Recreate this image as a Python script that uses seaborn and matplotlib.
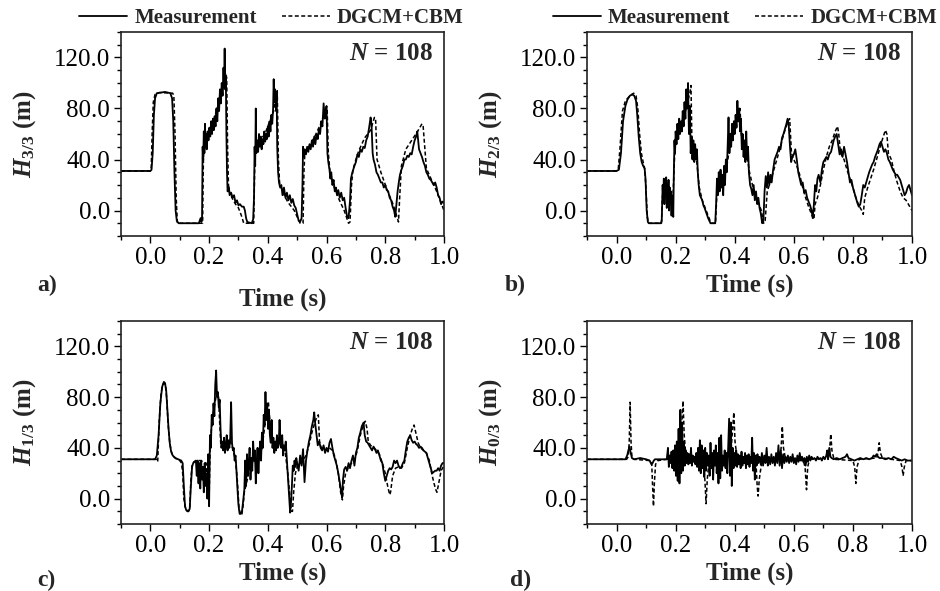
import matplotlib
matplotlib.use("Agg")
import matplotlib.pyplot as plt
import seaborn as sns
from matplotlib.ticker import MultipleLocator, FormatStrFormatter

# ---------------- data ----------------
# Panel a : H3/3
a_meas_t = [-0.100, 0.000, 0.004, 0.008, 0.012, 0.016, 0.022, 0.050, 0.068, 0.074,
            0.078, 0.082, 0.086, 0.090, 0.096, 0.165, 0.168, 0.171, 0.174, 0.176,
            0.178, 0.180, 0.182, 0.184, 0.186, 0.188, 0.190, 0.192, 0.195, 0.198,
            0.201, 0.204, 0.207, 0.210, 0.213, 0.216, 0.219, 0.222, 0.225, 0.228,
            0.231, 0.234, 0.237, 0.240, 0.243, 0.246, 0.249, 0.251, 0.253, 0.255,
            0.257, 0.259, 0.261, 0.263, 0.267, 0.270, 0.275, 0.280, 0.285, 0.290,
            0.295, 0.300, 0.305, 0.312, 0.318, 0.322, 0.326, 0.330, 0.345, 0.350,
            0.353, 0.355, 0.357, 0.359, 0.361, 0.364, 0.367, 0.370, 0.373, 0.376,
            0.379, 0.382, 0.385, 0.388, 0.391, 0.394, 0.397, 0.400, 0.403, 0.406,
            0.409, 0.412, 0.415, 0.418, 0.420, 0.422, 0.425, 0.428, 0.430, 0.432,
            0.435, 0.438, 0.442, 0.446, 0.450, 0.455, 0.460, 0.465, 0.470, 0.475,
            0.480, 0.485, 0.490, 0.495, 0.500, 0.505, 0.510, 0.515, 0.518, 0.520,
            0.523, 0.526, 0.530, 0.534, 0.538, 0.542, 0.546, 0.550, 0.554, 0.558,
            0.562, 0.566, 0.570, 0.574, 0.578, 0.582, 0.586, 0.590, 0.594, 0.597,
            0.600, 0.603, 0.606, 0.610, 0.613, 0.616, 0.620, 0.624, 0.628, 0.632,
            0.636, 0.640, 0.645, 0.650, 0.655, 0.660, 0.665, 0.670, 0.675, 0.680,
            0.683, 0.688, 0.695, 0.700, 0.705, 0.710, 0.715, 0.720, 0.725, 0.730,
            0.735, 0.740, 0.745, 0.750, 0.753, 0.757, 0.760, 0.765, 0.770, 0.775,
            0.780, 0.785, 0.790, 0.795, 0.800, 0.805, 0.810, 0.815, 0.820, 0.825,
            0.830, 0.834, 0.838, 0.842, 0.846, 0.850, 0.855, 0.860, 0.865, 0.870,
            0.875, 0.880, 0.885, 0.890, 0.895, 0.900, 0.905, 0.909, 0.912, 0.915,
            0.920, 0.925, 0.930, 0.935, 0.940, 0.945, 0.950, 0.955, 0.960, 0.965,
            0.970, 0.975, 0.980, 0.985, 0.990, 0.995, 1.000]
a_meas_v = [31, 31, 32, 45, 75, 88, 92, 93, 92, 88,
            70, 30, 0, -8, -10, -10, -8, -6, -9, -5,
            50, 40, 62, 45, 68, 50, 60, 48, 62, 55,
            65, 58, 70, 60, 72, 63, 74, 66, 80, 70,
            88, 78, 95, 84, 100, 90, 112, 98, 127, 95,
            105, 60, 30, 15, 18, 12, 14, 10, 12, 6,
            8, 4, 5, 3, 3, 0, -6, -9, -10, -7,
            10, 50, 35, 80, 45, 55, 46, 60, 50, 58,
            48, 56, 52, 62, 54, 60, 56, 66, 58, 70,
            62, 75, 68, 80, 103, 85, 95, 78, 92, 50,
            30, 22, 18, 20, 12, 18, 10, 14, 8, 12,
            6, 9, 4, 2, -3, -8, -9, -6, 20, 50,
            42, 48, 44, 50, 46, 52, 48, 55, 50, 58,
            52, 60, 56, 64, 60, 70, 66, 84, 72, 78,
            82, 45, 38, 32, 25, 30, 20, 24, 15, 18,
            12, 16, 10, 14, 8, 10, 2, -5, -6, 8,
            25, 30, 35, 38, 44, 42, 48, 46, 50, 49,
            55, 58, 65, 73, 68, 45, 40, 36, 30, 28,
            25, 22, 22, 18, 20, 16, 15, 10, 8, 3,
            0, -5, 5, 15, 22, 28, 32, 35, 40, 40,
            43, 42, 45, 44, 50, 55, 58, 62, 55, 48,
            45, 42, 38, 35, 30, 28, 25, 24, 22, 20,
            22, 18, 12, 10, 5, 7, 6]
a_sim_t = [-0.100, 0.000, 0.003, 0.006, 0.010, 0.016, 0.030, 0.076, 0.080, 0.084,
           0.088, 0.092, 0.178, 0.180, 0.182, 0.190, 0.200, 0.210, 0.220, 0.230,
           0.240, 0.250, 0.256, 0.260, 0.263, 0.266, 0.270, 0.280, 0.290, 0.300,
           0.310, 0.318, 0.352, 0.355, 0.358, 0.370, 0.380, 0.390, 0.400, 0.410,
           0.420, 0.428, 0.432, 0.436, 0.440, 0.450, 0.460, 0.470, 0.480, 0.490,
           0.500, 0.510, 0.520, 0.523, 0.526, 0.540, 0.560, 0.580, 0.595, 0.602,
           0.606, 0.612, 0.620, 0.640, 0.660, 0.675, 0.680, 0.685, 0.690, 0.700,
           0.710, 0.730, 0.750, 0.763, 0.767, 0.772, 0.785, 0.805, 0.828, 0.845,
           0.849, 0.855, 0.870, 0.890, 0.910, 0.925, 0.929, 0.940, 0.975, 1.000]
a_sim_v = [31, 31, 34, 60, 85, 91, 92.5, 92, 90, 60,
           10, -10, -10, 30, 55, 58, 62, 66, 74, 82,
           90, 98, 108, 104, 50, 20, 14, 9, 5, 2,
           -4, -10, -10, 30, 50, 54, 57, 60, 66, 72,
           78, 90, 95, 40, 22, 15, 10, 6, 3, 0,
           -5, -10, -10, 30, 45, 50, 58, 68, 78, 80,
           45, 30, 22, 10, 0, -10, -9, 20, 32, 40,
           47, 57, 63, 73, 72, 40, 30, 17, 4, -9,
           10, 35, 48, 55, 62, 68, 66, 33, 15, 0]

# Panel b : H2/3
b_meas_t = [-0.100, 0.000, 0.008, 0.015, 0.022, 0.030, 0.037, 0.045, 0.053, 0.060,
            0.066, 0.070, 0.075, 0.080, 0.085, 0.090, 0.095, 0.098, 0.102, 0.106,
            0.110, 0.150, 0.153, 0.156, 0.158, 0.160, 0.162, 0.164, 0.166, 0.168,
            0.170, 0.172, 0.174, 0.176, 0.178, 0.180, 0.182, 0.184, 0.186, 0.188,
            0.190, 0.192, 0.194, 0.196, 0.198, 0.200, 0.203, 0.206, 0.209, 0.212,
            0.215, 0.218, 0.221, 0.224, 0.227, 0.230, 0.233, 0.236, 0.239, 0.242,
            0.245, 0.248, 0.251, 0.254, 0.257, 0.260, 0.263, 0.266, 0.269, 0.272,
            0.275, 0.278, 0.282, 0.286, 0.290, 0.294, 0.298, 0.304, 0.310, 0.318,
            0.334, 0.337, 0.340, 0.343, 0.346, 0.349, 0.352, 0.355, 0.358, 0.361,
            0.364, 0.367, 0.370, 0.373, 0.376, 0.379, 0.382, 0.385, 0.388, 0.391,
            0.394, 0.397, 0.400, 0.403, 0.406, 0.409, 0.412, 0.415, 0.418, 0.421,
            0.424, 0.427, 0.430, 0.433, 0.436, 0.439, 0.442, 0.445, 0.448, 0.452,
            0.456, 0.460, 0.464, 0.468, 0.472, 0.476, 0.480, 0.484, 0.488, 0.493,
            0.497, 0.501, 0.505, 0.509, 0.513, 0.517, 0.521, 0.525, 0.530, 0.535,
            0.540, 0.545, 0.550, 0.555, 0.560, 0.565, 0.570, 0.575, 0.579, 0.583,
            0.587, 0.591, 0.595, 0.600, 0.605, 0.610, 0.615, 0.620, 0.625, 0.630,
            0.635, 0.640, 0.645, 0.650, 0.655, 0.660, 0.664, 0.668, 0.672, 0.676,
            0.680, 0.684, 0.690, 0.695, 0.700, 0.705, 0.710, 0.715, 0.720, 0.726,
            0.730, 0.735, 0.740, 0.745, 0.750, 0.755, 0.760, 0.765, 0.770, 0.775,
            0.780, 0.785, 0.790, 0.795, 0.800, 0.805, 0.810, 0.815, 0.820, 0.825,
            0.830, 0.835, 0.840, 0.845, 0.850, 0.855, 0.860, 0.865, 0.870, 0.875,
            0.880, 0.885, 0.890, 0.895, 0.900, 0.905, 0.910, 0.915, 0.920, 0.925,
            0.930, 0.935, 0.940, 0.945, 0.950, 0.955, 0.960, 0.965, 0.970, 0.975,
            0.980, 0.985, 0.990, 0.995, 1.000]
b_meas_v = [31, 31, 32, 45, 70, 82, 87, 90, 91, 90,
            86, 75, 58, 45, 38, 35, 33, 25, 0, -9,
            -10, -10, -8, 20, 8, 25, 5, 22, 12, 26,
            2, 20, 10, 24, 0, 18, 6, 15, -4, 12,
            2, -5, 30, 55, 45, 62, 52, 68, 56, 72,
            60, 70, 62, 78, 66, 85, 72, 95, 80, 100,
            60, 82, 45, 58, 40, 55, 38, 52, 40, 48,
            30, 20, 12, 10, 8, 4, 2, -2, -6, -10,
            -10, 5, 25, 12, 30, 15, 32, 18, 28, 12,
            35, 20, 40, 30, 50, 73, 45, 60, 50, 68,
            55, 70, 60, 75, 65, 86, 70, 80, 62, 72,
            48, 60, 42, 55, 38, 62, 40, 50, 30, 20,
            17, 12, 20, 8, 15, 5, 10, 2, -2, -10,
            -8, 15, 27, 18, 30, 20, 28, 22, 32, 40,
            43, 46, 50, 48, 57, 60, 64, 68, 72, 66,
            50, 38, 42, 44, 48, 40, 30, 25, 20, 22,
            14, 16, 10, 7, 4, 0, -6, 5, 20, 15,
            25, 28, 22, 32, 38, 40, 42, 40, 44, 46,
            50, 55, 58, 60, 52, 44, 48, 42, 50, 44,
            38, 30, 22, 24, 18, 14, 10, 6, 3, 5,
            12, 20, 18, 22, 26, 30, 33, 36, 38, 42,
            45, 48, 52, 54, 50, 46, 48, 45, 40, 38,
            35, 32, 30, 28, 28, 26, 24, 20, 16, 12,
            14, 18, 20, 16, 12]
b_sim_t = [-0.100, 0.000, 0.006, 0.012, 0.020, 0.030, 0.045, 0.058, 0.066, 0.072,
           0.078, 0.084, 0.090, 0.095, 0.099, 0.104, 0.108, 0.152, 0.155, 0.160,
           0.170, 0.180, 0.190, 0.196, 0.200, 0.210, 0.220, 0.230, 0.240, 0.248,
           0.252, 0.256, 0.262, 0.270, 0.280, 0.290, 0.300, 0.310, 0.320, 0.335,
           0.340, 0.350, 0.360, 0.370, 0.380, 0.390, 0.400, 0.410, 0.418, 0.422,
           0.430, 0.440, 0.450, 0.460, 0.470, 0.480, 0.490, 0.498, 0.503, 0.510,
           0.520, 0.530, 0.540, 0.550, 0.560, 0.570, 0.580, 0.586, 0.592, 0.600,
           0.610, 0.620, 0.630, 0.640, 0.650, 0.660, 0.668, 0.672, 0.680, 0.690,
           0.700, 0.710, 0.720, 0.730, 0.740, 0.748, 0.752, 0.758, 0.770, 0.780,
           0.790, 0.800, 0.810, 0.820, 0.830, 0.835, 0.840, 0.850, 0.860, 0.870,
           0.880, 0.890, 0.900, 0.910, 0.915, 0.920, 0.930, 0.940, 0.950, 0.960,
           0.970, 0.980, 0.990, 1.000]
b_sim_v = [31, 31, 33, 50, 78, 86, 90, 92, 90, 80,
           60, 45, 38, 33, 20, -5, -10, -10, 10, 20,
           18, 12, 5, 40, 55, 62, 68, 75, 85, 92,
           98, 40, 50, 42, 18, 8, 2, -4, -10, -10,
           15, 20, 25, 30, 45, 55, 62, 70, 80, 60,
           50, 45, 30, 20, 12, 6, 0, -10, -8, 15,
           22, 30, 38, 46, 55, 63, 70, 72, 45, 40,
           35, 28, 18, 10, 3, -3, -7, 5, 10, 20,
           32, 42, 50, 55, 62, 66, 60, 45, 40, 32,
           25, 18, 10, 4, 0, -3, 10, 18, 25, 32,
           40, 48, 56, 63, 60, 45, 40, 30, 22, 15,
           10, 8, 4, 0]

# Panel c : H1/3
c_meas_t = [-0.100, 0.000, 0.016, 0.022, 0.028, 0.034, 0.040, 0.046, 0.050, 0.054,
            0.058, 0.062, 0.066, 0.070, 0.076, 0.085, 0.095, 0.105, 0.110, 0.114,
            0.118, 0.122, 0.126, 0.130, 0.134, 0.138, 0.142, 0.146, 0.150, 0.155,
            0.158, 0.161, 0.164, 0.167, 0.170, 0.173, 0.176, 0.179, 0.182, 0.185,
            0.188, 0.191, 0.194, 0.197, 0.200, 0.203, 0.206, 0.209, 0.212, 0.215,
            0.218, 0.221, 0.224, 0.227, 0.230, 0.233, 0.236, 0.239, 0.242, 0.245,
            0.248, 0.251, 0.254, 0.257, 0.260, 0.263, 0.266, 0.269, 0.272, 0.275,
            0.278, 0.281, 0.284, 0.287, 0.290, 0.293, 0.296, 0.300, 0.304, 0.308,
            0.312, 0.316, 0.320, 0.323, 0.326, 0.329, 0.332, 0.335, 0.338, 0.341,
            0.344, 0.347, 0.350, 0.353, 0.356, 0.359, 0.362, 0.365, 0.368, 0.371,
            0.374, 0.377, 0.380, 0.383, 0.386, 0.389, 0.392, 0.395, 0.398, 0.401,
            0.404, 0.407, 0.410, 0.413, 0.416, 0.419, 0.422, 0.425, 0.428, 0.431,
            0.434, 0.437, 0.440, 0.443, 0.446, 0.449, 0.452, 0.455, 0.458, 0.461,
            0.464, 0.467, 0.470, 0.473, 0.476, 0.479, 0.482, 0.485, 0.488, 0.491,
            0.494, 0.497, 0.500, 0.505, 0.510, 0.515, 0.520, 0.525, 0.530, 0.535,
            0.540, 0.545, 0.550, 0.555, 0.558, 0.561, 0.565, 0.570, 0.575, 0.580,
            0.585, 0.590, 0.595, 0.600, 0.605, 0.610, 0.615, 0.620, 0.625, 0.630,
            0.635, 0.640, 0.645, 0.650, 0.653, 0.656, 0.660, 0.665, 0.670, 0.675,
            0.680, 0.685, 0.690, 0.695, 0.700, 0.705, 0.710, 0.715, 0.720, 0.726,
            0.730, 0.735, 0.740, 0.745, 0.750, 0.755, 0.760, 0.765, 0.770, 0.775,
            0.780, 0.785, 0.790, 0.795, 0.800, 0.805, 0.810, 0.815, 0.820, 0.825,
            0.830, 0.835, 0.840, 0.845, 0.850, 0.855, 0.860, 0.865, 0.870, 0.875,
            0.880, 0.885, 0.890, 0.895, 0.900, 0.905, 0.910, 0.915, 0.920, 0.925,
            0.930, 0.935, 0.940, 0.945, 0.950, 0.955, 0.960, 0.965, 0.970, 0.975,
            0.980, 0.985, 0.990, 0.995, 1.000]
c_meas_v = [31, 31, 31, 34, 50, 75, 88, 92, 91, 85,
            70, 55, 44, 38, 34, 32, 31, 30, 28, 10,
            -6, -9, -10, -10, -8, 10, 25, 28, 29, 30,
            18, 30, 12, 28, 8, 30, 15, 25, 5, 28,
            10, 20, 0, 35, -6, 50, 40, 66, 58, 75,
            65, 90, 101, 80, 84, 72, 78, 55, 40, 45,
            38, 48, 36, 42, 50, 38, 46, 40, 48, 76,
            44, 38, 40, 30, 34, 23, 10, -5, -12, -12,
            -10, -2, 7, 30, 10, 35, 18, 28, 40, 15,
            32, 22, 45, 30, 38, 12, 28, 40, 20, 35,
            45, 30, 52, 40, 66, 58, 84, 62, 75, 55,
            70, 50, 44, 62, 40, 48, 36, 45, 38, 50,
            40, 42, 62, 45, 40, 50, 34, 42, 38, 45,
            34, 23, 12, 2, -11, -3, 10, 26, 22, 30,
            25, 32, 28, 22, 34, 26, 39, 13, 30, 38,
            45, 50, 57, 62, 68, 60, 52, 42, 45, 40,
            38, 42, 36, 40, 37, 44, 47, 40, 34, 30,
            26, 20, 13, 5, 1, 15, 23, 25, 22, 28,
            24, 30, 34, 26, 36, 40, 48, 52, 57, 60,
            50, 45, 44, 42, 40, 38, 41, 39, 36, 38,
            34, 30, 28, 20, 14, 18, 22, 24, 23, 25,
            30, 28, 30, 26, 24, 25, 28, 30, 38, 45,
            48, 50, 46, 44, 45, 43, 42, 40, 41, 40,
            38, 37, 36, 32, 28, 24, 20, 21, 22, 22,
            24, 22, 26, 28, 28]
c_sim_t = [-0.100, 0.000, 0.020, 0.025, 0.030, 0.036, 0.042, 0.048, 0.052, 0.056,
           0.060, 0.066, 0.072, 0.080, 0.090, 0.100, 0.106, 0.110, 0.114, 0.120,
           0.128, 0.134, 0.138, 0.142, 0.148, 0.160, 0.170, 0.180, 0.190, 0.196,
           0.200, 0.204, 0.210, 0.216, 0.222, 0.226, 0.232, 0.236, 0.240, 0.250,
           0.260, 0.270, 0.280, 0.290, 0.296, 0.302, 0.308, 0.312, 0.316, 0.320,
           0.330, 0.340, 0.350, 0.360, 0.370, 0.380, 0.390, 0.398, 0.402, 0.410,
           0.420, 0.430, 0.440, 0.450, 0.460, 0.468, 0.474, 0.480, 0.484, 0.488,
           0.494, 0.500, 0.510, 0.520, 0.530, 0.540, 0.550, 0.560, 0.568, 0.572,
           0.576, 0.582, 0.590, 0.600, 0.610, 0.620, 0.630, 0.640, 0.648, 0.654,
           0.658, 0.665, 0.675, 0.685, 0.695, 0.705, 0.715, 0.725, 0.732, 0.738,
           0.742, 0.750, 0.760, 0.770, 0.780, 0.790, 0.800, 0.808, 0.815, 0.818,
           0.825, 0.835, 0.845, 0.855, 0.865, 0.875, 0.885, 0.892, 0.898, 0.904,
           0.912, 0.920, 0.930, 0.940, 0.950, 0.958, 0.966, 0.972, 0.976, 0.982,
           0.990, 1.000]
c_sim_v = [31, 31, 31, 29, 60, 82, 90, 91, 88, 78,
           60, 44, 36, 33, 31, 30, 28, 20, 0, -8,
           -10, -8, 15, 26, 29, 30, 30, 29, 28, 5,
           0, 45, 60, 70, 78, 84, 80, 60, 42, 40,
           44, 46, 40, 30, 15, -8, -13, -12, -5, 5,
           15, 25, 30, 28, 32, 40, 58, 72, 76, 52,
           45, 40, 44, 40, 35, 20, 5, -10, -10, 5,
           20, 25, 28, 30, 34, 42, 52, 60, 65, 66,
           45, 40, 38, 38, 40, 38, 32, 20, 5, -1,
           10, 20, 25, 28, 30, 38, 50, 58, 61, 55,
           45, 42, 40, 38, 35, 28, 20, 10, 3, 5,
           18, 24, 25, 24, 28, 40, 50, 55, 58, 52,
           44, 40, 38, 36, 30, 20, 12, 7, 5, 12,
           22, 26]

# Panel d : H0/3
d_meas_t = [-0.100, 0.030, 0.036, 0.040, 0.044, 0.048, 0.052, 0.060, 0.080, 0.100,
            0.112, 0.118, 0.122, 0.126, 0.130, 0.140, 0.160, 0.170, 0.174, 0.177,
            0.180, 0.183, 0.186, 0.189, 0.192, 0.195, 0.198, 0.201, 0.204, 0.207,
            0.210, 0.213, 0.216, 0.219, 0.222, 0.225, 0.228, 0.231, 0.234, 0.237,
            0.240, 0.243, 0.246, 0.249, 0.252, 0.255, 0.258, 0.261, 0.264, 0.267,
            0.270, 0.273, 0.276, 0.279, 0.282, 0.285, 0.288, 0.291, 0.294, 0.297,
            0.300, 0.303, 0.306, 0.309, 0.312, 0.315, 0.318, 0.321, 0.324, 0.327,
            0.330, 0.333, 0.336, 0.339, 0.342, 0.345, 0.348, 0.351, 0.354, 0.357,
            0.360, 0.363, 0.366, 0.369, 0.372, 0.375, 0.378, 0.381, 0.384, 0.387,
            0.390, 0.393, 0.396, 0.399, 0.402, 0.405, 0.408, 0.411, 0.414, 0.417,
            0.420, 0.423, 0.426, 0.429, 0.432, 0.435, 0.438, 0.441, 0.444, 0.447,
            0.450, 0.453, 0.456, 0.459, 0.462, 0.465, 0.468, 0.471, 0.474, 0.477,
            0.480, 0.484, 0.488, 0.492, 0.496, 0.500, 0.504, 0.508, 0.512, 0.516,
            0.520, 0.524, 0.528, 0.532, 0.536, 0.540, 0.544, 0.548, 0.552, 0.556,
            0.560, 0.564, 0.568, 0.572, 0.576, 0.580, 0.584, 0.588, 0.592, 0.596,
            0.600, 0.604, 0.608, 0.612, 0.616, 0.620, 0.624, 0.628, 0.632, 0.636,
            0.640, 0.644, 0.648, 0.652, 0.656, 0.660, 0.665, 0.670, 0.675, 0.680,
            0.685, 0.690, 0.695, 0.700, 0.705, 0.710, 0.713, 0.716, 0.720, 0.724,
            0.728, 0.735, 0.745, 0.755, 0.765, 0.775, 0.780, 0.785, 0.795, 0.805,
            0.815, 0.825, 0.835, 0.845, 0.855, 0.865, 0.870, 0.875, 0.880, 0.885,
            0.890, 0.900, 0.910, 0.920, 0.930, 0.938, 0.945, 0.955, 0.965, 0.975,
            0.985, 1.000]
d_meas_v = [31, 31, 34, 38, 41, 36, 32, 31, 32, 31,
            30, 27, 28, 30, 31, 31, 31, 31, 40, 25,
            34, 28, 37, 24, 38, 22, 42, 18, 45, 14,
            55, 12, 70, 20, 60, 22, 45, 26, 38, 28,
            36, 27, 35, 28, 40, 26, 34, 29, 33, 27,
            36, 25, 40, 22, 46, 20, 42, 24, 38, 17,
            40, 22, 36, 26, 34, 18, 44, 24, 36, 15,
            38, 26, 42, 20, 36, 12, 48, 16, 50, 22,
            34, 26, 38, 24, 36, 20, 42, 63, 18, 60,
            10, 40, 24, 36, 26, 38, 25, 35, 27, 34,
            24, 37, 26, 33, 28, 36, 24, 34, 27, 35,
            25, 33, 28, 48, 22, 36, 15, 34, 26, 35,
            28, 33, 27, 36, 26, 34, 28, 40, 26, 33,
            27, 35, 28, 33, 26, 36, 28, 42, 26, 38,
            24, 35, 28, 33, 29, 34, 28, 33, 29, 35,
            28, 32, 27, 34, 29, 36, 30, 33, 29, 32,
            26, 33, 29, 34, 30, 33, 31, 32, 30, 33,
            31, 32, 30, 33, 31, 34, 38, 31, 40, 33,
            32, 31, 32, 31, 32, 33, 35, 32, 31, 30,
            31, 32, 31, 32, 31, 32, 34, 33, 35, 33,
            32, 32, 31, 32, 31, 33, 32, 31, 30, 31,
            30, 30]
d_sim_t = [-0.100, 0.034, 0.040, 0.043, 0.046, 0.049, 0.052, 0.058, 0.112, 0.119,
           0.122, 0.125, 0.128, 0.132, 0.140, 0.170, 0.200, 0.215, 0.221, 0.225,
           0.229, 0.235, 0.260, 0.293, 0.299, 0.303, 0.307, 0.313, 0.360, 0.388,
           0.393, 0.397, 0.401, 0.408, 0.462, 0.472, 0.476, 0.479, 0.483, 0.492,
           0.552, 0.557, 0.561, 0.565, 0.572, 0.632, 0.638, 0.643, 0.647, 0.653,
           0.716, 0.721, 0.725, 0.729, 0.736, 0.800, 0.806, 0.810, 0.814, 0.821,
           0.880, 0.885, 0.889, 0.893, 0.900, 0.960, 0.966, 0.970, 0.974, 0.980,
           1.000]
d_sim_v = [31, 31, 33, 45, 76, 45, 33, 31, 30, 28,
           10, -6, 12, 27, 30, 31, 32, 45, 60, 77,
           50, 33, 31, 30, 15, -4, 15, 30, 31, 40,
           55, 68, 45, 32, 31, 28, 10, 2, 15, 30,
           31, 40, 57, 40, 31, 30, 25, 7, 25, 31,
           32, 38, 51, 38, 31, 30, 25, 12, 25, 31,
           32, 36, 44, 36, 32, 30, 25, 18, 25, 30,
           30]

panel_letters = ["a)", "b)", "c)", "d)"]
ylabel_subs = ["3/3", "2/3", "1/3", "0/3"]
series_names = ["Measurement", "DGCM+CBM"]
annotation = "108"

# ---------------- style ----------------
sns.set_theme(style="ticks")
plt.rcParams["font.family"] = ["Liberation Serif", "DejaVu Serif"]
plt.rcParams["mathtext.fontset"] = "custom"
plt.rcParams["mathtext.rm"] = "Liberation Serif"
plt.rcParams["mathtext.it"] = "Liberation Serif:italic"
plt.rcParams["mathtext.bf"] = "Liberation Serif:bold"
plt.rcParams["mathtext.bfit"] = "Liberation Serif:bold:italic"

W, H = 940, 591
fig = plt.figure(figsize=(W / 100, H / 100), dpi=100)

boxes = [(121, 32, 444, 236), (587, 32, 912, 236),
         (121, 321, 444, 524), (587, 321, 912, 524)]
data = [(a_meas_t, a_meas_v, a_sim_t, a_sim_v),
        (b_meas_t, b_meas_v, b_sim_t, b_sim_v),
        (c_meas_t, c_meas_v, c_sim_t, c_sim_v),
        (d_meas_t, d_meas_v, d_sim_t, d_sim_v)]
xlabel_pad = [13, 3, 3, 3]
letter_pos = [(37, 285), (505, 285), (37, 580), (510, 580)]
legend_x = [0.466, 0.486]

dash = (0, (2.6, 1.6))
for i, (box, (mt, mv, st, sv)) in enumerate(zip(boxes, data)):
    x0, y0, x1, y1 = box
    ax = fig.add_axes([x0 / W, 1 - y1 / H, (x1 - x0) / W, (y1 - y0) / H])
    sns.lineplot(x=mt, y=mv, ax=ax, color="black", linewidth=1.3,
                 label=series_names[0], legend=False)
    sns.lineplot(x=st, y=sv, ax=ax, color="black", linewidth=1.1,
                 linestyle=dash, label=series_names[1], legend=False)
    ax.set_xlim(-0.1, 1.0)
    ax.set_ylim(-20, 140)
    ax.xaxis.set_major_locator(MultipleLocator(0.2))
    ax.xaxis.set_minor_locator(MultipleLocator(0.1))
    ax.yaxis.set_major_locator(MultipleLocator(40))
    ax.yaxis.set_minor_locator(MultipleLocator(10))
    ax.xaxis.set_major_formatter(FormatStrFormatter("%.1f"))
    ax.yaxis.set_major_formatter(FormatStrFormatter("%.1f"))
    ax.tick_params(axis="both", which="major", direction="out", length=5,
                   width=1.0, labelsize=18, colors="black", pad=3)
    ax.tick_params(axis="both", which="minor", direction="out", length=3,
                   width=1.0, colors="black")
    for s in ax.spines.values():
        s.set_visible(True)
        s.set_linewidth(1.2)
        s.set_color("#222222")
    ax.set_xlabel("Time (s)", fontsize=18, fontweight="bold",
                  labelpad=xlabel_pad[i])
    ax.set_ylabel(r"$\mathbfit{H}_{\mathbf{" + ylabel_subs[i] + r"}}$ (m)",
                  fontsize=18, fontweight="bold", labelpad=11)
    ax.text(0.966, 0.895, r"$\mathbfit{N}$ = " + annotation,
            transform=ax.transAxes, ha="right", va="center",
            fontsize=18, fontweight="bold")
    if i < 2:
        ax.legend(loc="lower center", bbox_to_anchor=(legend_x[i], 1.0),
                  ncol=2, frameon=False, prop=dict(weight="bold", size=15),
                  handlelength=2.3, handletextpad=0.35, columnspacing=1.2,
                  borderaxespad=0.1, borderpad=0.1)
    lx, ly = letter_pos[i]
    fig.text(lx / W, 1 - ly / H, panel_letters[i], fontsize=17,
             fontweight="bold", ha="left", va="center")

fig.savefig("out.png", dpi=100)
